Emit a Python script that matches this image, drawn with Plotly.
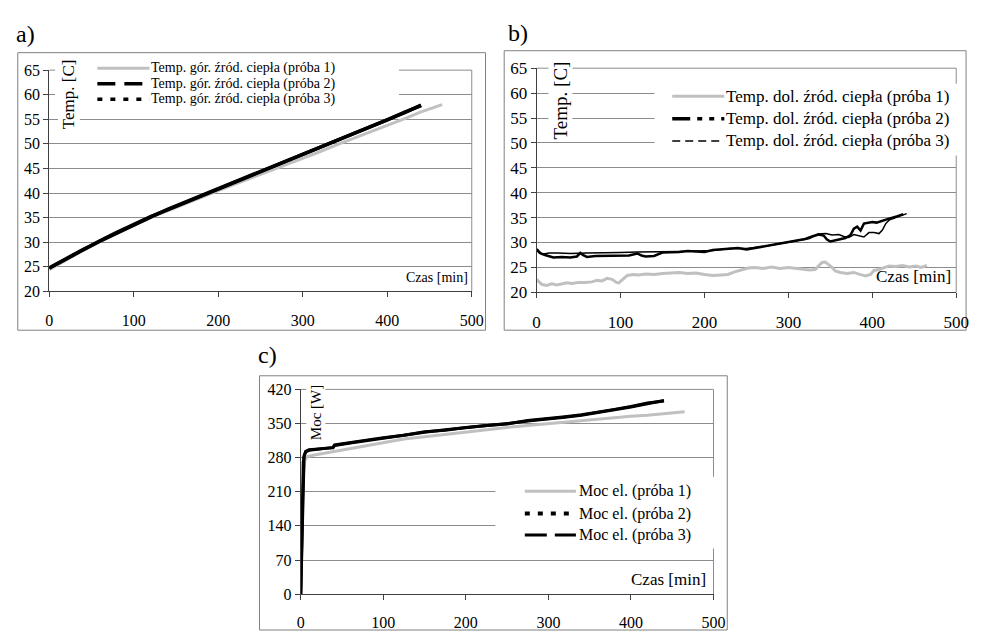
import plotly.graph_objects as go

W, H = 982, 641
def X(px):
    return px / W
def Y(py):
    return 1 - py / H

FONT = "Liberation Serif, Times New Roman, serif"
GRAY = "#c0c0c0"

# ---------------- panel a data ----------------
a_t1 = [0, 20, 40, 60, 80, 100, 120, 140, 160, 180, 200, 220, 240, 260, 280, 300, 320, 340, 360, 380, 400, 420, 440, 465]
a_T1 = [24.4, 26.4, 28.3, 30.1, 31.8, 33.4, 35.0, 36.4, 37.8, 39.2, 40.5, 41.8, 43.1, 44.4, 45.8, 47.1, 48.4, 49.8, 51.1, 52.4, 53.8, 55.1, 56.5, 58.0]
a_t2 = [0, 20, 40, 60, 80, 100, 120, 140, 160, 180, 200, 220, 240, 260, 280, 300, 320, 340, 360, 380, 400, 420, 440]
a_T2 = [24.7, 26.6, 28.5, 30.3, 32.0, 33.6, 35.2, 36.6, 38.0, 39.5, 40.9, 42.3, 43.7, 45.1, 46.5, 47.9, 49.3, 50.7, 52.1, 53.5, 54.8, 56.3, 57.9]
a_t3 = [0, 20, 40, 60, 80, 100, 120, 140, 160, 180, 200, 220, 240, 260, 280, 300, 320, 340, 360, 380, 400, 420, 440]
a_T3 = [24.8, 26.7, 28.5, 30.2, 31.9, 33.6, 35.1, 36.7, 38.1, 39.5, 40.9, 42.2, 43.6, 45.0, 46.4, 47.8, 49.2, 50.6, 52.0, 53.4, 54.9, 56.4, 57.8]

# ---------------- panel b data ----------------
b_t1 = [0, 3, 6, 12, 18, 24, 30, 36, 42, 50, 58, 66, 72, 78, 84, 90, 95, 98, 104, 108, 115, 122, 130, 140,
        150, 160, 170, 180, 190, 200, 210, 220, 228, 236, 244, 252, 260, 270, 280, 290, 300, 310, 318, 325,
        332, 336, 340, 344, 348, 352, 356, 362, 370, 378, 385, 392, 398, 402, 408, 414, 420, 428, 436, 444,
        452, 458, 465]
b_T1 = [22.6, 22.0, 21.6, 21.4, 21.7, 21.5, 21.7, 21.9, 21.8, 22.0, 22.0, 22.1, 22.4, 22.3, 22.8, 22.6, 22.0, 21.9,
        22.8, 23.4, 23.6, 23.5, 23.7, 23.6, 23.8, 23.9, 24.0, 23.8, 23.9, 23.6, 23.4, 23.5, 23.6, 24.1, 24.5,
        24.9, 25.0, 24.8, 25.1, 24.8, 25.0, 24.8, 24.7, 24.5, 24.6, 25.2, 26.0, 26.1, 25.6, 25.0, 24.3, 24.0,
        23.8, 24.0, 23.6, 23.3, 23.6, 24.4, 24.6, 25.0, 25.3, 25.2, 25.4, 25.1, 25.3, 25.0, 25.4]
b_t2 = [0, 2, 5, 10, 15, 20, 30, 40, 48, 52, 55, 60, 70, 80, 90, 100, 110, 120, 125, 130, 140, 150, 160, 170,
        180, 190, 200, 210, 220, 230, 240, 250, 260, 270, 280, 290, 300, 310, 320, 330, 336, 342, 346, 350,
        356, 362, 368, 374, 378, 382, 386, 390, 395, 400, 405, 410, 420, 430, 437]
b_T2 = [28.7, 28.3, 27.8, 27.5, 27.2, 27.0, 27.1, 27.0, 27.2, 27.9, 27.5, 27.1, 27.3, 27.3, 27.3, 27.4, 27.4, 27.8,
        27.4, 27.2, 27.3, 28.0, 28.0, 28.1, 28.3, 28.2, 28.1, 28.5, 28.6, 28.7, 28.9, 28.6, 28.9, 29.3, 29.5,
        29.8, 30.1, 30.4, 30.7, 31.3, 31.6, 31.4, 30.6, 30.2, 30.4, 30.6, 30.9, 31.5, 32.8, 33.2, 32.4, 33.8,
        34.0, 34.1, 34.0, 34.3, 34.8, 35.3, 35.7]
b_t3 = [0, 3, 8, 15, 25, 40, 60, 80, 100, 120, 135, 150, 170, 190, 210, 230, 250, 270, 290, 310, 325, 335, 345,
        352, 360, 366, 372, 378, 384, 390, 396, 402, 408, 412, 416, 420, 428, 436, 441]
b_T3 = [28.5, 27.9, 27.7, 27.9, 27.9, 27.8, 27.9, 27.9, 28.0, 28.1, 28.1, 28.1, 28.2, 28.3, 28.4, 28.8, 28.8, 29.2,
        29.8, 30.5, 30.8, 31.7, 31.8, 31.5, 31.6, 31.2, 31.0, 31.6, 31.4, 31.1, 32.0, 32.0, 31.8, 32.5, 33.8,
        34.5, 35.0, 35.4, 35.8]

# ---------------- panel c data ----------------
c_t1 = [0, 2, 3, 5, 8, 15, 25, 41, 60, 80, 100, 125, 150, 175, 200, 225, 250, 275, 300, 320, 340, 360, 380, 400, 420, 440, 465]
c_P1 = [0, 150, 240, 275, 282, 285, 288, 293, 299, 305, 311, 318, 323, 328, 333, 338, 342, 346, 350, 353, 356, 359, 362, 365, 367, 370, 374]
c_t2 = [0, 1, 2, 3, 4, 6, 10, 20, 30, 39, 41, 60, 80, 100, 125, 150, 175, 200, 225, 250, 275, 300, 320, 340, 360, 380, 400, 420, 440]
c_P2 = [0, 90, 200, 270, 284, 293, 296, 298, 299, 300, 305, 310, 315, 320, 327, 332, 337, 341, 345, 350, 355, 359, 363, 367, 372, 378, 384, 391, 397]
c_t3 = [0, 1, 2, 3, 4, 6, 10, 20, 30, 39, 41, 60, 80, 100, 125, 150, 175, 200, 225, 250, 275, 300, 320, 340, 360, 380, 400, 420, 440]
c_P3 = [0, 80, 190, 265, 282, 292, 295, 297, 299, 301, 306, 311, 316, 321, 326, 333, 336, 342, 346, 349, 356, 360, 364, 368, 373, 379, 385, 392, 396]

x_ticks = [0, 100, 200, 300, 400, 500]
ab_y_ticks = [20, 25, 30, 35, 40, 45, 50, 55, 60, 65]
c_y_ticks = [0, 70, 140, 210, 280, 350, 420]

fig = go.Figure()

def add(x, y, xa, ya, color, width, name):
    fig.add_trace(go.Scatter(x=x, y=y, xaxis=xa, yaxis=ya, mode="lines", name=name,
                             line=dict(color=color, width=width), showlegend=False,
                             hoverinfo="x+y"))

add(a_t1, a_T1, "x", "y", GRAY, 3, "Temp. gór. źród. ciepła (próba 1)")
add(a_t2, a_T2, "x", "y", "black", 3.5, "Temp. gór. źród. ciepła (próba 2)")
add(a_t3, a_T3, "x", "y", "black", 3.5, "Temp. gór. źród. ciepła (próba 3)")

add(b_t1, b_T1, "x2", "y2", GRAY, 3, "Temp. dol. źród. ciepła (próba 1)")
add(b_t2, b_T2, "x2", "y2", "black", 2.5, "Temp. dol. źród. ciepła (próba 2)")
add(b_t3, b_T3, "x2", "y2", "black", 1.5, "Temp. dol. źród. ciepła (próba 3)")

add(c_t1, c_P1, "x3", "y3", GRAY, 3, "Moc el. (próba 1)")
add(c_t2, c_P2, "x3", "y3", "black", 3, "Moc el. (próba 2)")
add(c_t3, c_P3, "x3", "y3", "black", 3, "Moc el. (próba 3)")

AXC = "#404040"
GRID = "#8c8c8c"

def xax(domain, anchor, fs):
    return dict(domain=domain, anchor=anchor, range=[0, 500], tickvals=x_ticks,
                showline=True, linecolor=AXC, linewidth=1, ticks="outside", ticklen=5,
                tickcolor=AXC, showgrid=False, zeroline=False, ticklabelstandoff=9,
                tickfont=dict(family=FONT, size=fs, color="black"), fixedrange=True)

def yax(domain, anchor, rng, tv, fs):
    return dict(domain=domain, anchor=anchor, range=rng, tickvals=tv,
                showline=True, linecolor=AXC, linewidth=1, ticks="outside", ticklen=5,
                tickcolor=AXC, showgrid=True, gridcolor=GRID, gridwidth=1, zeroline=False,
                tickfont=dict(family=FONT, size=fs, color="black"), fixedrange=True)

shapes = []
# outer frames
for (x0, y0, x1, y1) in [(14, 45, 490, 331), (509, 43, 979, 331), (260, 378, 736, 640)]:
    shapes.append(dict(type="rect", xref="paper", yref="paper", x0=X(x0), x1=X(x1), y0=Y(y1), y1=Y(y0),
                       line=dict(color="#808080", width=1), fillcolor="rgba(0,0,0,0)", layer="below"))
# plot-area borders (top & right)
for ax in ["", "2", "3"]:
    shapes.append(dict(type="line", xref=f"x{ax} domain", yref=f"y{ax} domain", x0=0, x1=1, y0=1, y1=1,
                       line=dict(color=GRID, width=1), layer="below"))
    shapes.append(dict(type="line", xref=f"x{ax} domain", yref=f"y{ax} domain", x0=1, x1=1, y0=0, y1=1,
                       line=dict(color=GRID, width=1), layer="below"))

# legend backgrounds
for (x0, y0, x1, y1) in [(52, 50, 402, 103), (662, 77, 976, 151), (500, 482, 726, 556)]:
    shapes.append(dict(type="rect", xref="paper", yref="paper", x0=X(x0), x1=X(x1), y0=Y(y1), y1=Y(y0),
                       line=dict(width=0), fillcolor="white", layer="above"))

annotations = []

def legend(rows, sx0, sx1, tx, fs, items):
    for ry, (label, color, width, dash) in zip(rows, items):
        shapes.append(dict(type="line", xref="paper", yref="paper", x0=X(sx0), x1=X(sx1), y0=Y(ry), y1=Y(ry),
                           line=dict(color=color, width=width, dash=dash), layer="above"))
        annotations.append(dict(xref="paper", yref="paper", x=X(tx), y=Y(ry), text=label, showarrow=False,
                                xanchor="left", yanchor="middle",
                                font=dict(family=FONT, size=fs, color="black")))

legend([61, 77, 93], 95, 148, 148, 14, [
    ("Temp. gór. źród. ciepła (próba 1)", GRAY, 3, "solid"),
    ("Temp. gór. źród. ciepła (próba 2)", "black", 3.5, "18px,9px"),
    ("Temp. gór. źród. ciepła (próba 3)", "black", 3.5, "5px,8px"),
])
legend([90, 113, 136], 680, 733, 733, 17, [
    ("Temp. dol. źród. ciepła (próba 1)", GRAY, 3, "solid"),
    ("Temp. dol. źród. ciepła (próba 2)", "black", 3.5, "18px,7px,5px,7px,5px,7px"),
    ("Temp. dol. źród. ciepła (próba 3)", "black", 1.5, "8px,5px"),
])
legend([497, 520, 542], 530, 582, 583, 16, [
    ("Moc el. (próba 1)", GRAY, 3, "solid"),
    ("Moc el. (próba 2)", "black", 4, "5px,8px"),
    ("Moc el. (próba 3)", "black", 3, "22px,8px"),
])

# axis titles (with white background like the original)
for (cx, cy, txt, fs) in [(66, 88, "Temp. [C]", 17), (566, 94, "Temp. [C]", 19), (317, 416, "Moc [W]", 15)]:
    annotations.append(dict(xref="paper", yref="paper", x=X(cx), y=Y(cy), text=txt, showarrow=False,
                            textangle=-90, xanchor="center", yanchor="middle", bgcolor="white",
                            font=dict(family=FONT, size=fs, color="black")))
for (rx, cy, fs) in [(474, 277, 14), (966, 276, 17), (716, 588, 17)]:
    annotations.append(dict(xref="paper", yref="paper", x=X(rx), y=Y(cy), text="Czas [min]", showarrow=False,
                            xanchor="right", yanchor="middle",
                            font=dict(family=FONT, size=fs, color="black")))
# panel letters
for (lx, ly, txt) in [(10, 26, "a)"), (511, 25, "b)"), (256, 357, "c)")]:
    annotations.append(dict(xref="paper", yref="paper", x=X(lx), y=Y(ly), text=txt, showarrow=False,
                            xanchor="left", yanchor="middle",
                            font=dict(family=FONT, size=24, color="black")))

fig.update_layout(
    width=W, height=H, margin=dict(l=0, r=0, t=0, b=0),
    paper_bgcolor="white", plot_bgcolor="rgba(0,0,0,0)",
    font=dict(family=FONT, color="black"),
    showlegend=False,
    xaxis=xax([X(46), X(476)], "y", 16),
    yaxis=yax([Y(291), Y(63)], "x", [20, 65], ab_y_ticks, 16),
    xaxis2=xax([X(542), X(969)], "y2", 17),
    yaxis2=yax([Y(292), Y(61)], "x2", [20, 65], ab_y_ticks, 17),
    xaxis3=xax([X(302), X(722)], "y3", 16),
    yaxis3=yax([Y(603), Y(392)], "x3", [0, 420], c_y_ticks, 16),
    shapes=shapes, annotations=annotations,
)

fig.write_html("out.html", config={"displayModeBar": False},
               post_script="document.body.style.margin='0';document.body.style.overflow='hidden';")
